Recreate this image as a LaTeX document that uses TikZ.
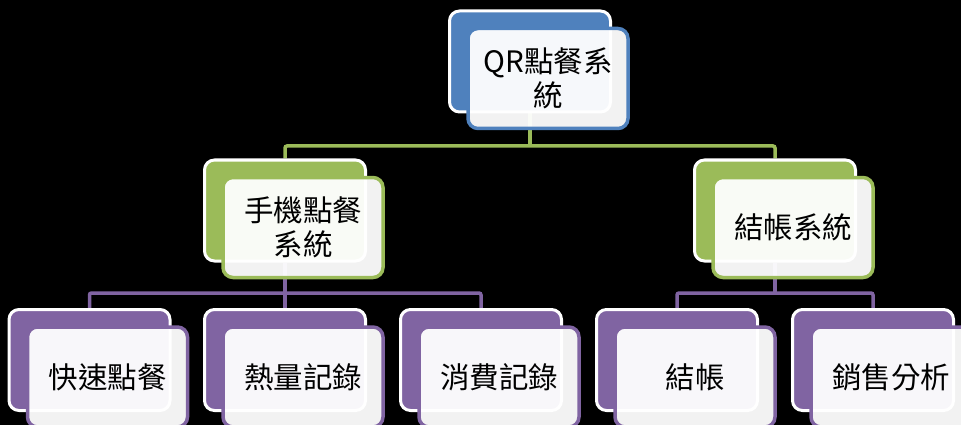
\documentclass[tikz,border=0pt]{standalone}
\usepackage{fontspec}
\newfontfamily\cjk{Noto Sans CJK TC}
\usetikzlibrary{
    backgrounds,
    positioning
}
\definecolor{accblue}{HTML}{4F81BD}
\definecolor{accgreen}{HTML}{9BBB59}
\definecolor{accpurple}{HTML}{8064A2}
\tikzset{
    backbox/.style={draw=white, line width=3pt, fill=#1, rounded corners=10pt,
        minimum width=161pt, minimum height=101pt, inner sep=0pt},
    frontbox/.style={draw=#1, line width=3.5pt, fill=white, fill opacity=0.95,
        text opacity=1, rounded corners=10pt, minimum width=160pt,
        minimum height=100pt, inner sep=0pt, align=center,
        font=\cjk\fontsize{29.5}{34}\selectfont},
    bus/.style={draw=#1, line width=3.5pt, rounded corners=2pt}
}

\begin{document}
\begin{tikzpicture}[x=1pt, y=-1pt]
                                \useasboundingbox (0, 0) rectangle (961, 425);
                                \clip (0, 0) rectangle (961, 425);
                                % top level
                                \node[backbox=accblue] (qr) at (530, 61.5) {};
                                \node[frontbox=accblue] (qrf) at ([shift={(18, 17)}]qr) {QR點餐系\\統};
                                % second level
                                \node[backbox=accgreen] (phone) at (285, 210.5) {};
                                \node[frontbox=accgreen] (phonef) at ([shift={(18, 17)}]phone) {手機點餐\\系統};
                                \node[backbox=accgreen] (pay) at (775, 210.5) {};
                                \node[frontbox=accgreen] (payf) at ([shift={(18, 17)}]pay) {結帳系統};
                                % third level
                                \node[backbox=accpurple] (quick) at (89.5, 360) {};
                                \node[frontbox=accpurple] (quickf) at ([shift={(18, 17)}]quick) {快速點餐};
                                \node[backbox=accpurple] (cal) at (285, 360) {};
                                \node[frontbox=accpurple] (calf) at ([shift={(18, 17)}]cal) {熱量記錄};
                                \node[backbox=accpurple] (spend) at (481, 360) {};
                                \node[frontbox=accpurple] (spendf) at ([shift={(18, 17)}]spend) {消費記錄};
                                \node[backbox=accpurple] (bill) at (677, 360) {};
                                \node[frontbox=accpurple] (billf) at ([shift={(18, 17)}]bill) {結帳};
                                \node[backbox=accpurple] (sales) at (873, 360) {};
                                \node[frontbox=accpurple] (salesf) at ([shift={(18, 17)}]sales) {銷售分析};
                                \coordinate (bus0) at (0, 146);
                                \coordinate (bus1) at (0, 293);
                                \begin{scope}[on background layer]
                                \fill[black] (0, 0) rectangle (961, 425);
                                \draw[bus=accgreen] (qr.south) -- (qr.south |- bus0);
                                \draw[bus=accgreen] (phone.north) |- (bus0 -| pay.north) -- (pay.north);
                                \draw[bus=accpurple] (phone.south) -- (cal.north);
                                \draw[bus=accpurple] (quick.north) |- (bus1 -| spend.north) -- (spend.north);
                                \draw[bus=accpurple] (pay.south) -- (pay.south |- bus1);
                                \draw[bus=accpurple] (bill.north) |- (bus1 -| sales.north) -- (sales.north);
                                \end{scope}
                            \end{tikzpicture}
\end{document}
